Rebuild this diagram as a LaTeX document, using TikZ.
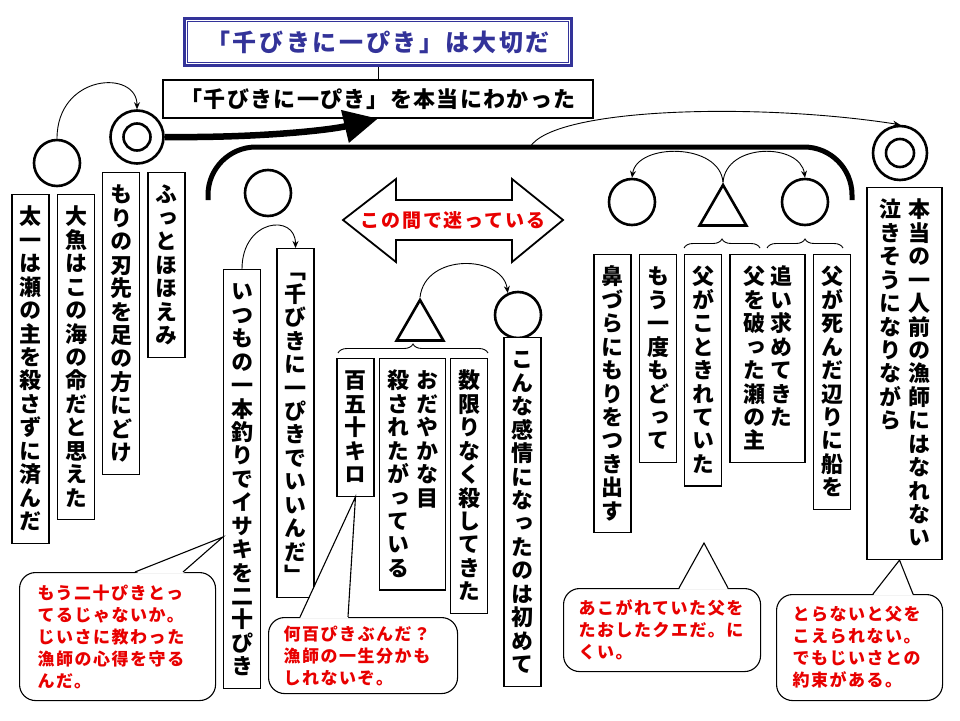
\documentclass[tikz,border=0pt]{standalone}
\usepackage{fontspec}
\usetikzlibrary{arrows.meta,shapes.geometric,decorations.pathreplacing}
\newfontfamily\jp{Noto Sans CJK JP}
\newfontfamily\jptate{Noto Sans CJK JP}[RawFeature=+vert]
\definecolor{navy}{RGB}{51,51,153}
\definecolor{callred}{RGB}{232,0,0}
% tategaki: one character per line
\newcommand\tatestop{}
\newcommand\tatechar[1]{\hbox to 1em{\vrule height .88em depth .12em width 0pt\hss#1\hss}}
\def\tateloop#1{\ifx\tatestop#1\else\tatechar{#1}\expandafter\tateloop\fi}
\newcommand\tate[1]{\vtop{\baselineskip=1.065em\lineskiplimit=-\maxdimen\tateloop#1\tatestop}}
\tikzset{
  tatebox/.style={draw, line width=1.1pt, fill=white, anchor=north, inner xsep=7.5pt,
    inner ysep=11pt, font=\jptate\bfseries\fontsize{22}{23.4}\selectfont},
  maru/.style={circle, draw, line width=2.6pt, minimum size=46pt, inner sep=0pt},
  sankaku/.style={regular polygon, regular polygon sides=3, draw, line width=2.6pt,
    minimum size=54pt, inner sep=0pt},
  yaji/.style={-{Stealth[length=7pt,width=6pt]}, line width=0.9pt},
  kakko/.style={decorate, decoration={brace,amplitude=9pt}, line width=0.9pt},
  fukidashi/.style={draw, rounded corners=16pt, line width=1.1pt, fill=white, anchor=north west,
    align=left, text=callred, inner ysep=4pt,
    font=\jp\bfseries\fontsize{17}{22}\selectfont\addfontfeatures{LetterSpace=9}}
}
\begin{document}
\begin{tikzpicture}[x=1pt,y=-1pt]
  \useasboundingbox (0,0) rectangle (960,720);

  \node[draw=navy, line width=2.8pt, minimum width=387pt, minimum height=47pt, text=navy,
    font=\jp\bfseries\fontsize{24}{28}\selectfont\addfontfeatures{LetterSpace=11}]
    (title) at (378,42) {「千びきに一ぴき」は大切だ};
  \draw[navy, line width=1pt] ([shift={(4.5,4.5)}]title.north west) rectangle ([shift={(-4.5,-4.5)}]title.south east);
  \node[draw, line width=1.1pt, minimum width=430pt, minimum height=38pt,
    font=\jp\bfseries\fontsize{22}{26}\selectfont\addfontfeatures{LetterSpace=6}]
    (sub) at (378,99) {「千びきに一ぴき」を本当にわかった};
  \draw[line width=0.9pt] (title.south) -- (sub.north);

  \coordinate (brL) at (208,200);
  \coordinate (brTop) at (530,147);
  \coordinate (brR) at (852,200);
  \draw[line width=5pt, rounded corners=48pt] (brL) |- (brTop) -| (brR);

  \node[maru] (maruTaichi) at (57,163) {};
  \node[maru, minimum size=53pt] (nijuMori) at (137,137) {};
  \node[maru, minimum size=27pt] (nijuMoriIn) at (nijuMori) {};
  \node[maru] (maruItsumo) at (268,193) {};
  \node[sankaku] (sanHyaku) at (420,327) {};
  \node[maru] (maruKonna) at (518,315) {};
  \node[maru] (maruModoru) at (632,202) {};
  \node[sankaku] (sanChichi) at (723,212) {};
  \node[maru] (maruOu) at (805,202) {};
  \node[maru, minimum size=54pt] (nijuHontou) at (900,153) {};
  \node[maru, minimum size=28pt] (nijuHontouIn) at (nijuHontou) {};

  \draw[line width=6.5pt, -{Triangle[length=34pt,width=32pt]}]
    (nijuMori.east) .. controls (260,138) and (330,130) .. (sub.south);
  \draw[yaji] (maruTaichi.north) .. controls +(0,-65) and +(0,-40) .. (nijuMori.north);
  \draw[yaji] (brTop) .. controls +(25,-40) and +(-140,-22) .. (nijuHontou.north);
  \draw[yaji] (sanHyaku.corner 1) .. controls +(5,-45) and +(-5,-38) .. (maruKonna.115);
  \draw[yaji] (sanChichi.corner 1) .. controls +(-3,-40) and +(5,-35) .. (maruModoru.north);
  \draw[yaji] (sanChichi.corner 1) .. controls +(3,-40) and +(-5,-35) .. (maruOu.north);

  \draw[line width=1.8pt, fill=white] (343,220) -- (396,179) -- (396,200) -- (512,200) -- (512,179)
    -- (563,220) -- (512,262) -- (512,240) -- (396,240) -- (396,262) -- cycle;
  \node[text=callred, font=\jp\bfseries\fontsize{19}{22}\selectfont\addfontfeatures{LetterSpace=10}]
    (mayou) at (453,220) {この間で迷っている};

  \node[tatebox] (taichi) at (30.5,194) {\tate{太一は瀬の主を殺さずに済んだ}};
  \node[tatebox] (ogyo) at (76,194) {\tate{大魚はこの海の命だと思えた}};
  \node[tatebox] (mori) at (121,172) {\tate{もりの刃先を足の方にどけ}};
  \node[tatebox] (futto) at (166.5,172) {\tate{ふっとほほえみ}};
  \node[tatebox] (itsumo) at (242,269) {\tate{いつもの一本釣りでイサキを二十ぴき}};
  \node[tatebox] (senbiki) at (295.5,248) {\tate{「千びきに一ぴきでいいんだ」}};
  \node[tatebox] (hyaku) at (355.5,358) {\tate{百五十キロ}};
  \node[tatebox, minimum width=61pt] (odayaka) at (412.5,358) {\tate{殺されたがっている}\hskip7pt\tate{おだやかな目}};
  \node[tatebox] (kagiri) at (469,358) {\tate{数限りなく殺してきた}};
  \node[tatebox] (konna) at (522.5,337) {\tate{こんな感情になったのは初めて}};
  \node[tatebox] (hana) at (612.5,254) {\tate{鼻づらにもりをつき出す}};
  \node[tatebox] (mouichido) at (658,254) {\tate{もう一度もどって}};
  \node[tatebox] (kotokire) at (703,254) {\tate{父がこときれていた}};
  \node[tatebox, minimum width=75pt] (oimotome) at (767.5,254) {\tate{父を破った瀬の主}\hskip5pt\tate{追い求めてきた}};
  \node[tatebox] (shinda) at (832,254) {\tate{父が死んだ辺りに船を}};
  \node[tatebox, minimum width=75pt] (hontou) at (904.5,187) {\tate{泣きそうになりながら}\hskip7pt\tate{本当の一人前の漁師にはなれない}};

  \draw[yaji] (itsumo.north) .. controls +(0,-50) and +(0,-35) .. (senbiki.north);
  \draw[kakko] (338,353) -- (488,353);
  \draw[kakko] (684,248) -- (760,248);
  \draw[kakko] (767,248) -- (843,248);

  \node[fukidashi, text width=160pt, inner xsep=18pt, minimum height=128pt] (kokoroe) at (19,572)
    {もう二十ぴきとっ\\てるじゃないか。\\じいさに教わった\\漁師の心得を守る\\んだ。};
  \fill[white] (135,573.5) -- ([yshift=-58pt]itsumo.west) -- (183,573.5) -- cycle;
  \draw[line width=1.1pt] (135,572) -- ([yshift=-58pt]itsumo.west) -- (183,572);

  \node[fukidashi, text width=159pt, inner xsep=15pt, minimum height=76pt] (nanbyaku) at (268,617)
    {何百ぴきぶんだ？\\漁師の一生分かも\\しれないぞ。};
  \fill[white] (300,618.5) -- (hyaku.south) -- (348,618.5) -- cycle;
  \draw[line width=1.1pt] (300,617) -- (hyaku.south) -- (348,617);

  \coordinate (kueTip) at (704,543);
  \node[fukidashi, text width=167pt, inner xsep=15pt, minimum height=83pt] (kue) at (563,588)
    {あこがれていた父を\\たおしたクエだ。に\\くい。};
  \fill[white] (679,589.5) -- (kueTip) -- (728,589.5) -- cycle;
  \draw[line width=1.1pt] (679,588) -- (kueTip) -- (728,588);

  \node[fukidashi, text width=134pt, inner xsep=16pt, minimum height=106pt] (yakusoku) at (776,594)
    {とらないと父を\\こえられない。\\でもじいさとの\\約束がある。};
  \fill[white] (873,595.5) -- ([xshift=-5pt]hontou.south) -- (913,595.5) -- cycle;
  \draw[line width=1.1pt] (873,594) -- ([xshift=-5pt]hontou.south) -- (913,594);
\end{tikzpicture}
\end{document}
